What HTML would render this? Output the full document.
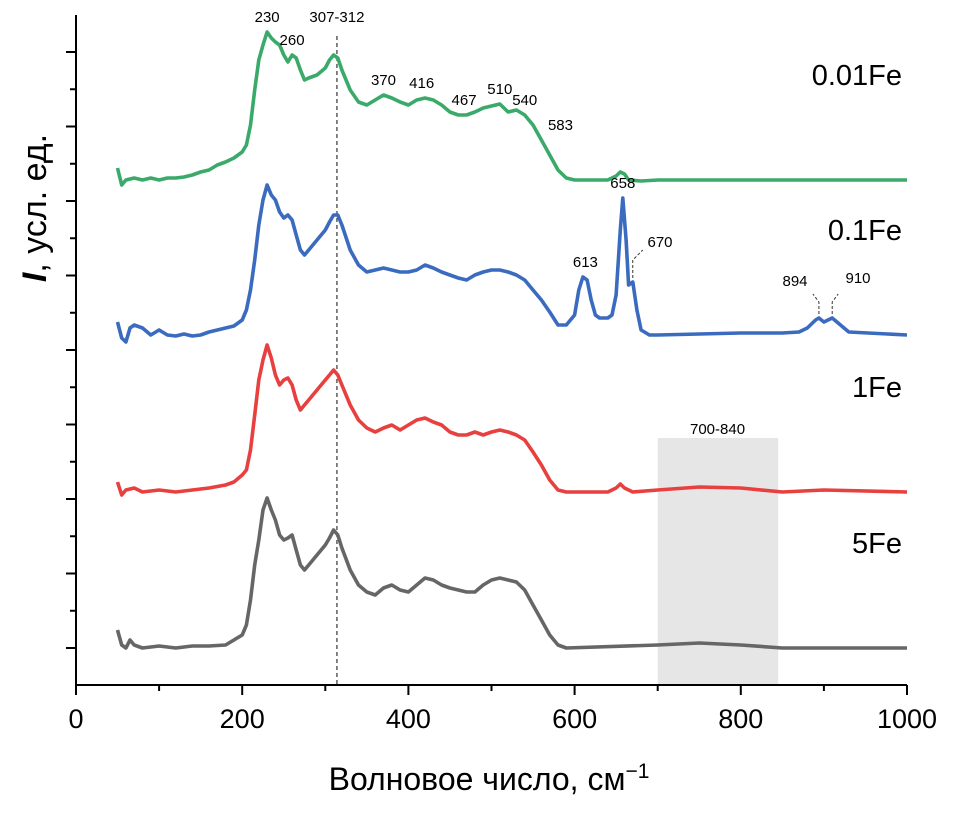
<!DOCTYPE html>
<html><head><meta charset="utf-8"><style>
body{margin:0;background:#fff;}
svg text{font-family:"Liberation Sans",sans-serif;fill:#000;}
</style></head><body>
<svg id="chart" width="980" height="808" viewBox="0 0 980 808" xmlns="http://www.w3.org/2000/svg">
<g id="bg"></g><g id="series"></g><g id="axes"></g><g id="ann"></g>
</svg>
<script>
const xTicks=[0,200,400,600,800,1000];
const seriesNames=["0.01Fe","0.1Fe","1Fe","5Fe"];
const seriesOffsets=[505,350,193,37];
const seriesColors=["#3aaa6a","#3a6bbf","#e8403f","#666666"];
const green=[[50,12],[55,-5],[60,0],[70,2],[80,0],[90,2],[100,0],[110,2],[120,2],[130,3],[140,5],[150,8],[160,10],[170,15],[180,18],[190,22],[200,28],[205,35],[210,55],[215,90],[220,120],[225,135],[230,148],[235,142],[240,138],[245,135],[250,125],[255,118],[260,125],[265,122],[270,110],[275,100],[280,102],[290,105],[300,112],[305,120],[310,125],[315,122],[320,110],[330,90],[340,78],[350,75],[360,80],[370,85],[380,82],[390,78],[400,75],[410,80],[420,82],[430,80],[440,75],[450,68],[460,65],[470,65],[480,68],[490,72],[500,74],[510,76],[520,68],[530,70],[540,65],[550,55],[560,40],[570,25],[580,10],[590,2],[600,0],[620,0],[640,0],[650,4],[655,8],[660,6],[665,0],[680,-1],[700,0],[800,0],[900,0],[1000,0]];
const blue=[[50,13],[55,-3],[60,-7],[65,7],[70,10],[80,7],[90,0],[100,5],[110,0],[120,-1],[130,1],[140,-1],[150,0],[160,3],[170,5],[180,7],[190,9],[200,15],[205,25],[210,45],[215,75],[220,110],[225,135],[230,150],[235,140],[240,135],[245,123],[250,117],[255,120],[260,115],[265,100],[270,85],[275,80],[280,85],[290,95],[300,105],[305,113],[310,120],[315,120],[320,110],[330,85],[340,70],[350,63],[360,65],[370,67],[380,65],[390,63],[400,63],[410,65],[420,70],[430,67],[440,63],[450,60],[460,57],[470,55],[480,60],[490,63],[500,65],[510,65],[520,63],[530,60],[540,55],[550,45],[560,35],[570,23],[580,10],[590,10],[600,20],[605,45],[610,58],[615,55],[620,35],[625,20],[630,17],[640,17],[645,20],[650,40],[655,105],[658,137],[662,95],[665,50],[670,53],[675,25],[680,5],[690,0],[700,0],[800,2],[850,2],[870,3],[880,7],[890,15],[894,17],[900,13],[910,17],[920,10],[930,3],[1000,0]];
const red=[[50,10],[55,-3],[60,2],[70,4],[80,0],[100,2],[120,0],[140,2],[160,4],[180,7],[190,10],[200,17],[205,22],[210,42],[215,77],[220,112],[225,132],[230,147],[235,134],[240,117],[245,107],[250,112],[255,114],[260,107],[265,92],[270,82],[275,87],[280,92],[290,102],[300,112],[305,117],[310,122],[315,117],[320,107],[330,87],[340,72],[350,64],[360,60],[370,64],[380,67],[390,62],[400,67],[410,72],[420,74],[430,70],[440,67],[450,60],[460,57],[470,57],[480,60],[490,57],[500,60],[510,62],[520,60],[530,57],[540,52],[550,40],[560,27],[570,12],[580,2],[590,0],[640,0],[650,4],[655,8],[660,4],[670,0],[700,2],[750,5],[800,4],[850,0],[900,2],[1000,0]];
const gray=[[50,18],[55,3],[60,0],[65,8],[70,3],[80,0],[100,2],[120,0],[140,2],[160,2],[180,3],[190,8],[200,13],[205,23],[210,48],[215,83],[220,108],[225,138],[230,150],[235,138],[240,128],[245,113],[250,108],[255,110],[260,113],[265,98],[270,83],[275,78],[280,83],[290,93],[300,103],[305,110],[310,118],[315,113],[320,100],[330,78],[340,63],[350,56],[360,53],[370,60],[380,63],[390,58],[400,56],[410,63],[420,70],[430,68],[440,63],[450,60],[460,58],[470,56],[480,56],[490,63],[500,68],[510,70],[520,68],[530,66],[540,58],[550,43],[560,28],[570,13],[580,3],[590,0],[700,3],[750,5],[800,3],[850,0],[1000,0]];
const seriesData=[green,blue,red,gray];
const peakLabels=[["230",230,0,148],["260",260,0,125],["370",370,0,85],["416",416,0,82],["467",467,0,65],["510",510,0,76],["540",540,0,65],["583",583,0,40],["613",613,1,58],["658",658,1,137]];

const NS="http://www.w3.org/2000/svg";
const X=v=>76+v*0.831, Y=v=>685-v;
function mk(tag,attrs,parent,txt){const e=document.createElementNS(NS,tag);for(const k in attrs)e.setAttribute(k,attrs[k]);if(txt!=null)e.textContent=txt;document.getElementById(parent).appendChild(e);return e;}

let r=mk('rect',{x:X(700),y:438,width:X(845)-X(700),height:685-438,fill:'#e6e6e6'},'bg');


let t=mk('text',{x:X(772),y:434,'font-size':15,'text-anchor':'middle'},'bg','700-840');


let dl=mk('line',{x1:X(314),x2:X(314),y1:36,y2:685,stroke:'#444','stroke-width':1.3,'stroke-dasharray':'4,3'},'bg');


t=mk('text',{x:X(314),y:22,'font-size':15,'text-anchor':'middle'},'bg','307-312');



seriesData.forEach((d,i)=>{
  const off=seriesOffsets[i];
  const pts=d.map(p=>X(p[0]).toFixed(1)+','+Y(off+p[1]).toFixed(1)).join(' ');
  const pl=mk('polyline',{points:pts,fill:'none',stroke:seriesColors[i],'stroke-width':3.6,'stroke-linejoin':'round'},'series');
  
  
  const lb=mk('text',{x:902,y:Y(off)-95,'font-size':29,'text-anchor':'end'},'ann',seriesNames[i]);
  
  
});

peakLabels.forEach(p=>{
  const el=mk('text',{x:X(p[1]),y:Y(seriesOffsets[p[2]]+p[3])-10,'font-size':15,'text-anchor':'middle'},'ann',p[0]);
  
  
});
[["670",670,1,53,660,247,"0,-18,10,-10"],["894",894,1,17,795,286,"0,-12,-6,-8"],["910",910,1,17,858,283,"0,-12,6,-8"]].forEach(p=>{
  const x0=X(p[1]),y0=Y(seriesOffsets[p[2]]+p[3])-4;
  const s=p[6].split(',').map(Number);
  const pth=mk('polyline',{points:`${x0},${y0} ${x0+s[0]},${y0+s[1]} ${x0+s[2]},${y0+s[1]+s[3]}`,fill:'none',stroke:'#333','stroke-width':1,'stroke-dasharray':'3,2'},'ann');
  
  
  const el=mk('text',{x:p[4],y:p[5],'font-size':15,'text-anchor':'middle'},'ann',p[0]);
  
  
});

let a=mk('line',{x1:76,x2:907,y1:685,y2:685,stroke:'#000','stroke-width':2},'axes');


a=mk('line',{x1:76,x2:76,y1:15,y2:685,stroke:'#000','stroke-width':2},'axes');


xTicks.forEach(v=>{
  const tk=mk('line',{x1:X(v),x2:X(v),y1:685,y2:695,stroke:'#000','stroke-width':2},'axes');
  
  
  const tl=mk('text',{x:X(v),y:728,'font-size':27,'text-anchor':'middle'},'axes',String(v));
  
  
});
for(let v=100;v<1000;v+=200){
  const tk=mk('line',{x1:X(v),x2:X(v),y1:685,y2:691,stroke:'#000','stroke-width':2},'axes');
  
  
}
for(let k=0;k<18;k++){
  const y=648-k*37.25; if(y<15)break;
  const major=k%2===0;
  const tk=mk('line',{x1:major?66:70,x2:76,y1:y,y2:y,stroke:'#000','stroke-width':2},'axes');
  
  
}
t=mk('text',{x:489,y:790,'font-size':32,'text-anchor':'middle'},'axes','Волновое число, см');


const sup=document.createElementNS(NS,'tspan');sup.setAttribute('dy','-12');sup.setAttribute('font-size','21');sup.textContent='−1';t.appendChild(sup);
t=mk('text',{x:0,y:0,'font-size':34,'text-anchor':'middle',transform:'translate(46,208) rotate(-90)'},'axes','');


const it=document.createElementNS(NS,'tspan');it.setAttribute('font-style','italic');it.setAttribute('font-weight','bold');it.textContent='I';t.appendChild(it);
const rest=document.createElementNS(NS,'tspan');rest.textContent=', усл. ед.';t.appendChild(rest);
</script>
</body></html>
